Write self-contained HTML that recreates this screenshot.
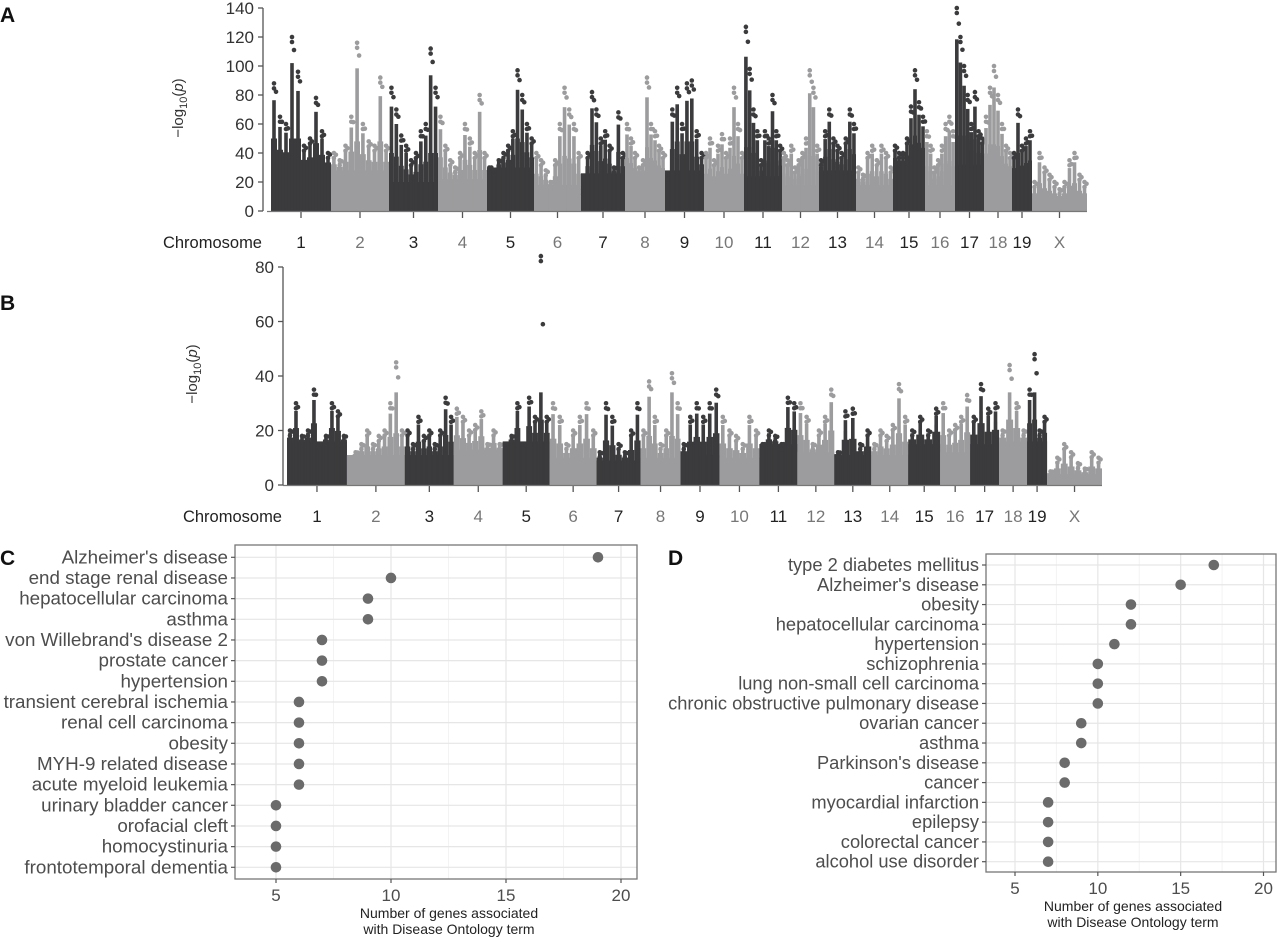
<!DOCTYPE html>
<html><head><meta charset="utf-8"><style>
html,body{margin:0;padding:0;background:#fff;}
svg{display:block;font-family:"Liberation Sans",Arial,sans-serif;}
</style></head><body>
<svg id="fig" width="1280" height="942" viewBox="0 0 1280 942" xmlns="http://www.w3.org/2000/svg">
<g id="panelA"></g>
<g id="panelB"></g>
<g id="panelC"></g>
<g id="panelD"></g>
</svg>
<script>
const chromNames = ["1","2","3","4","5","6","7","8","9","10","11","12","13","14","15","16","17","18","19","X"];
const chromLengths = [60,58,49,49,47,47,44,40,39,40,38,37,37,37,32,30,29,28,20,55];
const topsA = [
 [88,65,60,120,96,45,50,78,55,40],[40,35,45,65,116,60,48,45,92,45],[85,70,52,45,35,40,55,60,112,85],
 [65,45,35,30,40,60,50,40,80,40],[30,28,35,40,45,55,97,80,60,50],[40,35,28,20,35,60,85,70,60,40],
 [15,40,82,70,50,55,45,30,68,40],[60,50,40,30,35,92,60,55,45,40],[25,70,85,60,88,90,55,40],
 [40,50,35,45,53,40,50,85,60,40],[127,98,70,55,35,55,50,80,55,45],[40,35,45,30,35,40,50,97,85,45],
 [35,55,70,50,45,40,50,70,60],[30,25,40,45,35,45,40,30],[45,40,40,50,72,97,75,65],
 [55,45,30,35,45,60,65,55],[140,120,100,80,60,82,55,50],[65,85,100,80,60,45,40],
 [40,70,45,50,55],[20,40,30,25,20,15,20,35,40,25,20]
];
const basesA = [30,28,20,22,30,18,26,24,28,18,24,18,28,18,32,18,32,26,24,8];
const topsB = [
 [20,30,18,20,35,15,18,30,27,18],[10,12,15,20,15,18,20,30,45,20],[20,15,25,18,20,15,20,32,25],
 [28,25,20,22,27,15,20,15],[15,18,30,15,32,25,84,25],[30,25,15,20,25,30,20],
 [12,30,25,15,12,20,30],[20,38,25,15,20,41,30],[15,25,30,25,30,35],[25,20,18,15,25,20],
 [15,20,18,15,32,30],[30,25,15,20,25,35],[12,27,28,15,20],[15,20,18,22,37,25],
 [20,25,20,28],[30,20,22,25,33],[25,37,28,30],[20,44,30,20],[35,48,20,25],[5,10,15,12,8,6,12,10]
];
const basesB = [16,11,11,13,16,10,9,10,11,10,15,12,11,11,15,12,15,16,16,4];
const yTicksA = [0,20,40,60,80,100,120,140];
const yTicksB = [0,20,40,60,80];

const termsC = ["Alzheimer's disease","end stage renal disease","hepatocellular carcinoma","asthma","von Willebrand's disease 2","prostate cancer","hypertension","transient cerebral ischemia","renal cell carcinoma","obesity","MYH-9 related disease","acute myeloid leukemia","urinary bladder cancer","orofacial cleft","homocystinuria","frontotemporal dementia"];
const countsC = [19,10,9,9,7,7,7,6,6,6,6,6,5,5,5,5];
const termsD = ["type 2 diabetes mellitus","Alzheimer's disease","obesity","hepatocellular carcinoma","hypertension","schizophrenia","lung non-small cell carcinoma","chronic obstructive pulmonary disease","ovarian cancer","asthma","Parkinson's disease","cancer","myocardial infarction","epilepsy","colorectal cancer","alcohol use disorder"];
const countsD = [17,15,12,12,11,10,10,10,9,9,8,8,7,7,7,7];
const xTicksDot = [5,10,15,20];

const NS="http://www.w3.org/2000/svg";
function mk(parent,tag,attrs,text){const e=document.createElementNS(NS,tag);for(const k in attrs)e.setAttribute(k,attrs[k]);if(text!==undefined)e.textContent=text;parent.appendChild(e);return e;}

function manhattan(g,cfg,tops,bases,yTicks){
  const total=chromLengths.reduce((a,b)=>a+b,0);
  const xs=v=>cfg.x0+(v/total)*(cfg.x1-cfg.x0);
  const ys=v=>cfg.y0-(v/cfg.ymax)*(cfg.y0-cfg.yTop);
  let cum=0;
  chromNames.forEach((nm,c)=>{
    const a=xs(cum), b=xs(cum+chromLengths[c]); cum+=chromLengths[c];
    const col=c%2===0?"#3b3b3d":"#9c9c9e";
    const cg=mk(g,"g",{});
    
    
    mk(cg,"rect",{x:a,y:ys(bases[c]),width:b-a,height:ys(0)-ys(bases[c]),fill:col});
    const n=tops[c].length, w=(b-a)/n;
    tops[c].forEach((t,i)=>{
      const cx=a+(i+0.5)*w;
      const mid=bases[c]+Math.min((t-bases[c])*0.35,cfg.midCap);
      mk(cg,"rect",{x:cx-w*0.5,y:ys(mid),width:w,height:ys(0)-ys(mid),fill:col});
      const mid2=bases[c]+Math.min((t-bases[c])*0.55,cfg.midCap*1.5);
      mk(cg,"rect",{x:cx-w*0.22,y:ys(mid2),width:w*0.44,height:ys(0)-ys(mid2),fill:col});
      const hi=Math.min(bases[c]+(t-bases[c])*0.8,cfg.hiCap);
      mk(cg,"rect",{x:cx-1.8,y:ys(hi),width:3.6,height:ys(0)-ys(hi),fill:col});
      mk(cg,"circle",{cx:cx,cy:ys(t),r:2.3,fill:col});
      mk(cg,"circle",{cx:cx,cy:ys(t)+5,r:2.3,fill:col});
      mk(cg,"circle",{cx:cx+2,cy:ys((t+hi)/2),r:2.3,fill:col});
    });
    const lx=(a+b)/2;
    mk(g,"line",{x1:lx,x2:lx,y1:cfg.y0+1,y2:cfg.y0+7,stroke:"#555","stroke-width":1.3});
    const lab=mk(g,"text",{x:lx,y:cfg.labY,"text-anchor":"middle","font-size":17,fill:(c%2===0&&nm!=="X")?"#222":"#777"},nm);
    
    
  });
  mk(g,"line",{x1:cfg.x0-4,x2:cfg.x1,y1:cfg.y0+0.5,y2:cfg.y0+0.5,stroke:"#777","stroke-width":1.3});
  mk(g,"line",{x1:cfg.axX,x2:cfg.axX,y1:cfg.yTop,y2:cfg.y0,stroke:"#555","stroke-width":1.3});
  yTicks.forEach(v=>{
    mk(g,"line",{x1:cfg.axX-5,x2:cfg.axX,y1:ys(v),y2:ys(v),stroke:"#555","stroke-width":1.3});
    const t=mk(g,"text",{x:cfg.axX-9,y:ys(v)+6,"text-anchor":"end","font-size":17,fill:"#333"},v);
    
    
  });
  const ct=mk(g,"text",{x:cfg.chromX,y:cfg.labY,"text-anchor":"end","font-size":16.5,fill:"#222"},"Chromosome");
  
  
  const yt=mk(g,"text",{transform:`translate(${cfg.ytX},${cfg.ytY}) rotate(-90)`,"text-anchor":"middle","font-size":15,fill:"#333"});
  
  
  mk(yt,"tspan",{},"\u2212log");mk(yt,"tspan",{"font-size":11,dy:4},"10");mk(yt,"tspan",{dy:-4},"(");mk(yt,"tspan",{"font-style":"italic"},"p");mk(yt,"tspan",{},")");
  const pl=mk(g,"text",{x:cfg.letterX,y:cfg.letterY,"font-size":21,"font-weight":"bold",fill:"#111"},cfg.letter);
  
  
}

manhattan(document.getElementById("panelA"),{x0:271,x1:1087,y0:211,yTop:8,ymax:140,axX:263,labY:248,chromX:262,ytX:183,ytY:108,letter:"A",letterX:0,letterY:22,midCap:20,hiCap:200},topsA,basesA,yTicksA);
manhattan(document.getElementById("panelB"),{x0:287,x1:1102,y0:485,yTop:267,ymax:80,axX:283,labY:522,chromX:282,ytX:197,ytY:374,letter:"B",letterX:0,letterY:310,midCap:8,hiCap:34},topsB,basesB,yTicksB);

function dotplot(g,cfg,terms,counts){
  const xs=v=>cfg.x5+(v-5)*(cfg.x20-cfg.x5)/15;
  const ys=i=>cfg.rowY0+i*(cfg.rowY1-cfg.rowY0)/(terms.length-1);
  [2.5,7.5,12.5,17.5].forEach(v=>{const x=xs(v);if(x>cfg.bx0&&x<cfg.bx1)mk(g,"line",{x1:x,x2:x,y1:cfg.by0,y2:cfg.by1,stroke:"#f3f3f3","stroke-width":1});});
  xTicksDot.forEach(v=>mk(g,"line",{x1:xs(v),x2:xs(v),y1:cfg.by0,y2:cfg.by1,stroke:"#e6e6e6","stroke-width":1.2}));
  terms.forEach((t,i)=>mk(g,"line",{x1:cfg.bx0,x2:cfg.bx1,y1:ys(i),y2:ys(i),stroke:"#e6e6e6","stroke-width":1.2}));
  mk(g,"rect",{x:cfg.bx0,y:cfg.by0,width:cfg.bx1-cfg.bx0,height:cfg.by1-cfg.by0,fill:"none",stroke:"#777","stroke-width":1.3});
  terms.forEach((t,i)=>{
    mk(g,"line",{x1:cfg.bx0-4,x2:cfg.bx0,y1:ys(i),y2:ys(i),stroke:"#555","stroke-width":1.2});
    const lb=mk(g,"text",{x:cfg.bx0-7,y:ys(i)+6,"text-anchor":"end","font-size":cfg.fs,fill:"#4d4d4d"},t);
    
    
    const d=mk(g,"circle",{cx:xs(counts[i]),cy:ys(i),r:5.3,fill:"#6b6b6b"});
    
    
  });
  xTicksDot.forEach(v=>{
    mk(g,"line",{x1:xs(v),x2:xs(v),y1:cfg.by1,y2:cfg.by1+4,stroke:"#555","stroke-width":1.2});
    const tl=mk(g,"text",{x:xs(v),y:cfg.by1+22,"text-anchor":"middle","font-size":17,fill:"#4d4d4d"},v);
    
    
  });
  const cx=cfg.titleX;
  const t1=mk(g,"text",{x:cx,y:cfg.by1+39,"text-anchor":"middle","font-size":14,fill:"#222"},"Number of genes associated");
  
  
  const t2=mk(g,"text",{x:cx,y:cfg.by1+55,"text-anchor":"middle","font-size":14,fill:"#222"},"with Disease Ontology term");
  
  
  const pl=mk(g,"text",{x:cfg.letterX,y:cfg.letterY,"font-size":21,"font-weight":"bold",fill:"#111"},cfg.letter);
  
  
}
dotplot(document.getElementById("panelC"),{bx0:235,bx1:637,by0:545,by1:879,x5:276,x20:621,rowY0:557.3,rowY1:867.3,letter:"C",letterX:0,letterY:565,fs:18.8,titleX:449},termsC,countsC);
dotplot(document.getElementById("panelD"),{bx0:986,bx1:1276,by0:554,by1:872,x5:1015,x20:1263.5,rowY0:565,rowY1:861.7,letter:"D",letterX:668,letterY:565,fs:18.3,titleX:1133},termsD,countsD);
</script>
</body></html>
